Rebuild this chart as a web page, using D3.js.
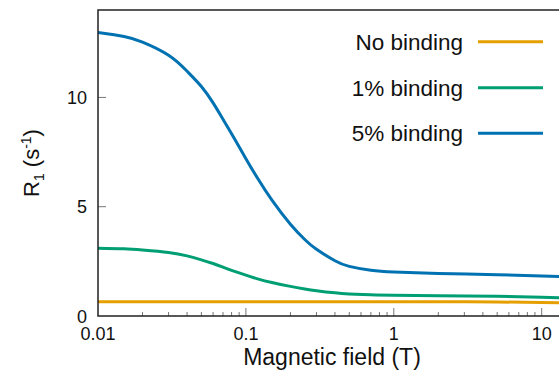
<!DOCTYPE html>
<html>
<head>
<meta charset="utf-8">
<script src="https://cdn.jsdelivr.net/npm/d3@7"></script>
<style>
  html, body { margin: 0; padding: 0; background: #fff; }
  svg { display: block; font-family: "Liberation Sans", Arial, Helvetica, sans-serif; }
</style>
</head>
<body>
<svg id="chart" width="559" height="370"></svg>
<script>
// Magnetic field values (T) at which R1 is sampled
const field = [0.01, 0.015, 0.02, 0.03, 0.04, 0.05, 0.06, 0.07, 0.08, 0.1, 0.12, 0.15, 0.2, 0.25, 0.3, 0.4, 0.5, 0.7, 1, 2, 5, 10, 15];

// Longitudinal relaxation rate R1 (s^-1) for each binding fraction
const noBinding = [0.65, 0.65, 0.65, 0.65, 0.65, 0.65, 0.65, 0.65, 0.65, 0.65, 0.65, 0.65, 0.65, 0.65, 0.65, 0.65, 0.65, 0.65, 0.65, 0.65, 0.64, 0.62, 0.60];
const binding1  = [3.10, 3.075, 3.02, 2.905, 2.75, 2.57, 2.40, 2.235, 2.09, 1.87, 1.70, 1.53, 1.355, 1.24, 1.16, 1.06, 1.01, 0.97, 0.95, 0.93, 0.90, 0.86, 0.82];
const binding5  = [12.97, 12.79, 12.53, 11.93, 11.2, 10.5, 9.75, 9.0, 8.34, 7.2, 6.3, 5.3, 4.2, 3.5, 3.05, 2.53, 2.27, 2.09, 2.01, 1.95, 1.89, 1.83, 1.79];

const seriesNames  = ["No binding", "1% binding", "5% binding"];
const seriesValues = [noBinding, binding1, binding5];
const seriesColors = ["#E69F00", "#009E73", "#0072B2"];

const xTickValues = [0.01, 0.1, 1, 10];
const xTickLabels = ["0.01", "0.1", "1", "10"];
const yTickValues = [0, 5, 10];

const svg = d3.select("#chart");

const plotLeft = 98, plotTop = 10, plotBottom = 316, plotRight = 570;

const x = d3.scaleLog().domain([0.01, 10]).range([plotLeft, 541.7]);
const y = d3.scaleLinear().domain([0, 14]).range([plotBottom, plotTop]);

// clip curves to the plotting frame
svg.append("clipPath").attr("id", "plot-clip")
  .append("rect").attr("x", plotLeft).attr("y", plotTop)
  .attr("width", plotRight - plotLeft).attr("height", plotBottom - plotTop);

// curves
const line = d3.line()
  .x(d => x(d[0]))
  .y(d => y(d[1]))
  .curve(d3.curveNatural);

const curves = svg.append("g").attr("clip-path", "url(#plot-clip)");
seriesValues.forEach((vals, i) => {
  curves.append("path")
    .datum(field.map((f, j) => [f, vals[j]]))
    .attr("fill", "none")
    .attr("stroke", seriesColors[i])
    .attr("stroke-width", 3)
    .attr("stroke-linejoin", "round")
    .attr("d", line);
});

// x minor + major ticks (pointing inward)
const minorTicks = [];
[0.01, 0.1, 1, 10].forEach(dec => {
  for (let k = 2; k <= 9; k++) {
    const v = dec * k;
    if (x(v) < 559) minorTicks.push(v);
  }
});
const tickG = svg.append("g").attr("stroke", "#777").attr("stroke-width", 1);
tickG.selectAll("line.minor").data(minorTicks).join("line")
  .attr("class", "minor")
  .attr("x1", d => x(d)).attr("x2", d => x(d))
  .attr("y1", plotBottom).attr("y2", plotBottom - 4);
tickG.selectAll("line.major").data(xTickValues.slice(1)).join("line")
  .attr("class", "major")
  .attr("x1", d => x(d)).attr("x2", d => x(d))
  .attr("y1", plotBottom).attr("y2", plotBottom - 8);
tickG.selectAll("line.ymajor").data(yTickValues.slice(1)).join("line")
  .attr("class", "ymajor")
  .attr("x1", plotLeft).attr("x2", plotLeft + 8)
  .attr("y1", d => y(d)).attr("y2", d => y(d));

// frame: left, bottom, top
svg.append("path")
  .attr("fill", "none")
  .attr("stroke", "#222")
  .attr("stroke-width", 1.5)
  .attr("d", `M${plotRight},${plotTop}H${plotLeft}V${plotBottom}H${plotRight}`);

// tick labels
svg.append("g").selectAll("text").data(xTickValues).join("text")
  .attr("x", d => x(d))
  .attr("y", 339.5)
  .attr("text-anchor", "middle")
  .attr("font-size", 18)
  .attr("fill", "#111")
  .text((d, i) => xTickLabels[i]);

svg.append("g").selectAll("text").data(yTickValues).join("text")
  .attr("x", 87)
  .attr("y", d => y(d) + 6.5)
  .attr("text-anchor", "end")
  .attr("font-size", 18)
  .attr("fill", "#111")
  .text(d => d);

// axis titles
svg.append("text")
  .attr("x", 332).attr("y", 364.5)
  .attr("text-anchor", "middle")
  .attr("font-size", 23)
  .attr("fill", "#111")
  .text("Magnetic field (T)");

const yTitle = svg.append("text")
  .attr("transform", `translate(39,${(plotTop + plotBottom) / 2}) rotate(-90)`)
  .attr("text-anchor", "middle")
  .attr("font-size", 22)
  .attr("fill", "#111");
yTitle.append("tspan").text("R");
yTitle.append("tspan").attr("font-size", 14).attr("dy", 5).text("1");
yTitle.append("tspan").attr("dy", -5).text(" (s");
yTitle.append("tspan").attr("font-size", 14).attr("dy", -8).text("-1");
yTitle.append("tspan").attr("dy", 8).text(")");

// legend
const legendY = [41.7, 87.7, 133.3];
const legend = svg.append("g");
seriesNames.forEach((name, i) => {
  legend.append("text")
    .attr("x", 463).attr("y", legendY[i] + 8)
    .attr("text-anchor", "end")
    .attr("font-size", 22.5)
    .attr("fill", "#111")
    .text(name);
  legend.append("line")
    .attr("x1", 478).attr("x2", 543)
    .attr("y1", legendY[i]).attr("y2", legendY[i])
    .attr("stroke", seriesColors[i])
    .attr("stroke-width", 3);
});
</script>
</body>
</html>
